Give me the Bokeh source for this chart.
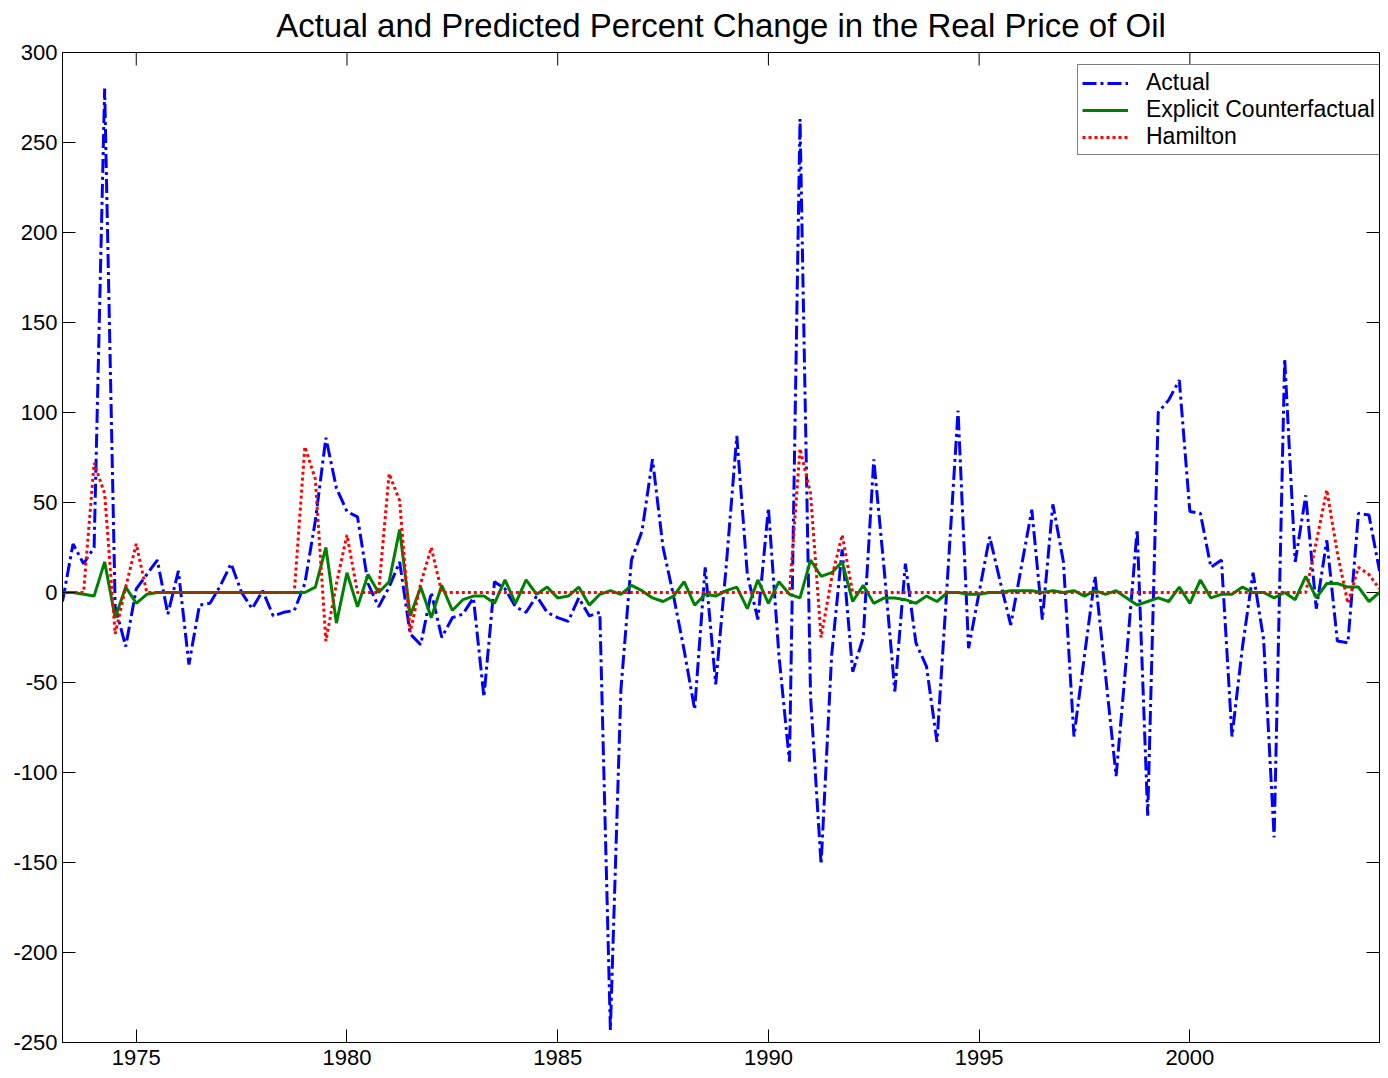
from bokeh.plotting import figure
from bokeh.models import LinearAxis, Range1d, FixedTicker, Legend, LegendItem, ColumnDataSource
from bokeh.embed import file_html
from bokeh.resources import INLINE

# ---------------- data ----------------
start_year = 1973.25          # first quarter shown
n_quarters = 126              # 1973Q2 .. 2004Q3
quarters = [start_year + 0.25 * k for k in range(n_quarters)]

actual = [
    -5, 27, 16, 25, 280, -8, -30, 2, 10, 18,
    -12, 12, -40, -7, -6, 4, 16, 0, -9, 1,
    -13, -11, -10, 5, 40, 86, 58, 45, 42, 5,
    -8, 3, 17, -23, -29, 0, -25, -14, -12, -3,
    -58, 6, 2, -8, -11, -2, -11, -14, -16, -3,
    -13, -11, -243, -54, 18, 34, 74, 25, -2, -32,
    -65, 14, -51, 15, 87, 10, -15, 47, -35, -94,
    263, -58, -151, -35, 24, -44, -25, 74, 12, -55,
    16, -28, -41, -83, 8, 101, -31, 0, 31, 6,
    -18, 14, 46, -15, 49, 17, -80, -35, 9, -46,
    -102, -35, 35, -124, 100, 107, 118, 45, 44, 14,
    18, -80, -30, 11, -26, -136, 130, 17, 54, -9,
    29, -27, -28, 44, 43, 12,
]

explicit_cf = [
    0, 0, -1, -2, 17, -14, 3, -6, -1, 0,
    0, 0, 0, 0, 0, 0, 0, 0, 0, 0,
    0, 0, 0, 0, 3, 25, -17, 11, -8, 10,
    0, 6, 35, -13, 3, -14, 4, -10, -4, -2,
    -2, -6, 7, -6, 7, -1, 3, -3, -2, 3,
    -7, -1, 1, -1, 4, 1, -3, -5, -2, 6,
    -7, -1, -2, 1, 3, -9, 7, -6, 6, -1,
    -3, 18, 9, 11, 17, -5, 4, -6, -3, -3,
    -4, -6, -2, -5, 0, 0, -1, -1, 0, 0,
    1, 1, 1, 0, 1, 0, 1, -2, 1, -1,
    1, -3, -7, -5, -3, -5, 3, -6, 7, -3,
    -1, -1, 3, 0, 0, -3, 0, -4, 9, -3,
    5, 5, 3, 3, -5, 0,
]

hamilton = [
    0, 0, 0, 72, 55, -23, 3, 27, 0, 0,
    0, 0, 0, 0, 0, 0, 0, 0, 0, 0,
    0, 0, 0, 81, 63, -27, 5, 32, 0, 0,
    0, 66, 51, -22, 5, 25, 0, 0, 0, 0,
    0, 0, 0, 0, 0, 0, 0, 0, 0, 0,
    0, 0, 0, 0, 0, 0, 0, 0, 0, 0,
    0, 0, 0, 0, 0, 0, 0, 0, 0, 0,
    80, 55, -25, 8, 32, 0, 0, 0, 0, 0,
    0, 0, 0, 0, 0, 0, 0, 0, 0, 0,
    0, 0, 0, 0, 0, 0, 0, 0, 0, 0,
    0, 0, 0, 0, 0, 0, 0, 0, 0, 0,
    0, 0, 0, 0, 0, 0, 0, 0, 0, 28,
    57, 22, -6, 14, 10, 2,
]

x_ticks = [1975, 1980, 1985, 1990, 1995, 2000]
y_ticks = [-250, -200, -150, -100, -50, 0, 50, 100, 150, 200, 250, 300]
title_text = "Actual and Predicted Percent Change in the Real Price of Oil"
series_names = ["Actual", "Explicit Counterfactual", "Hamilton"]

# ---------------- layout ----------------
FONT = "Liberation Sans"
W, H = 1380, 1070
BL, BT, BB, BR = 62, 52, 28, 1
X0, X1 = 1973.25, 2004.5
Y0, Y1 = -250, 300
TICK = 13
frame_w = W - BL - BR
frame_h = H - BT - BB

p = figure(width=W, height=H, output_backend="svg", toolbar_location=None,
           x_range=Range1d(X0, X1), y_range=Range1d(Y0, Y1),
           x_axis_location=None, y_axis_location=None,
           min_border_left=BL, min_border_top=BT, min_border_bottom=BB, min_border_right=BR)
p.grid.visible = False
p.outline_line_color = "black"
p.outline_line_width = 1
p.background_fill_color = "white"
p.border_fill_color = "white"

p.title.text = title_text
p.title.text_font = FONT
p.title.text_font_size = "33px"
p.title.text_font_style = "normal"
p.title.align = "center"
p.title.vertical_align = "top"
p.title.text_color = "black"
p.title.standoff = 13


def make_axis(ticks, standoff):
    ax = LinearAxis(ticker=FixedTicker(ticks=ticks))
    ax.major_tick_in = TICK
    ax.major_tick_out = 0
    ax.minor_tick_in = 0
    ax.minor_tick_out = 0
    ax.axis_line_color = "black"
    ax.major_tick_line_color = "black"
    ax.major_label_text_font = FONT
    ax.major_label_text_color = "black"
    ax.major_label_text_font_size = "22px"
    ax.major_label_standoff = standoff
    ax.major_label_overrides = {t: str(t) for t in ticks}
    return ax


x_axis = make_axis(x_ticks, 7)
x_axis.major_label_text_line_height = 0.7
p.add_layout(x_axis, "below")
p.add_layout(make_axis(y_ticks, 5), "left")

# inward ticks on the top and right edges of the box (MATLAB style)
dy = TICK * (Y1 - Y0) / frame_h
dx = TICK * (X1 - X0) / frame_w
p.segment(x0=x_ticks, y0=[Y1] * len(x_ticks), x1=x_ticks, y1=[Y1 - dy] * len(x_ticks),
          line_color="black", line_width=1)
p.segment(x0=[X1] * len(y_ticks), y0=y_ticks, x1=[X1 - dx] * len(y_ticks), y1=y_ticks,
          line_color="black", line_width=1)

src = ColumnDataSource(dict(x=quarters, actual=actual, cf=explicit_cf, ham=hamilton))

r_act = p.line("x", "actual", source=src, line_color="#0000FF", line_width=3,
               line_dash="14 4 3 4")
r_cf = p.line("x", "cf", source=src, line_color="#008000", line_width=3)
r_ham = p.line("x", "ham", source=src, line_color="#FF0000", line_width=3,
               line_dash="3 3")

legend = Legend(items=[LegendItem(label=series_names[0], renderers=[r_act]),
                       LegendItem(label=series_names[1], renderers=[r_cf]),
                       LegendItem(label=series_names[2], renderers=[r_ham])],
                location=(1015, 887))
legend.label_text_font = FONT
legend.label_text_font_size = "23px"
legend.label_text_color = "black"
legend.glyph_width = 46
legend.glyph_height = 20
legend.label_height = 20
legend.label_standoff = 18
legend.spacing = 0
legend.padding = 4
legend.margin = 0
legend.border_line_color = "black"
legend.border_line_width = 1
legend.background_fill_color = "white"
legend.background_fill_alpha = 1.0
p.add_layout(legend)

open("out.html", "w").write(file_html(p, INLINE))
